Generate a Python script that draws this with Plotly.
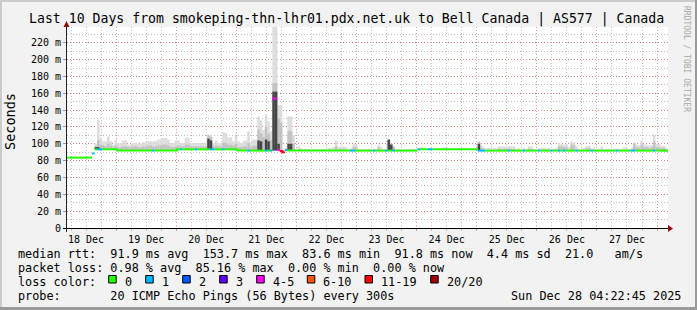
import plotly.graph_objects as go
import pandas as pd

# ---------------- data (hourly buckets, 240 h) ----------------
START = "2025-12-18 04:22:45"
END = "2025-12-28 04:22:45"

median = [
    83.6, 83.6, 83.6, 83.6, 83.6, 83.6, 83.6, 83.6, 83.6, 83.6, 88.5, 93.4,
    93.4, 93.4, 93.4, 93.4, 93.4, 93.4, 93.4, 93.4, 91.9, 91.9, 91.9, 91.9,
    91.9, 91.9, 91.9, 91.9, 91.9, 91.9, 91.9, 91.9, 91.9, 91.9, 91.9, 91.9,
    91.9, 91.9, 91.9, 91.9, 91.9, 91.9, 91.9, 91.9, 93.4, 93.4, 93.4, 93.4,
    93.4, 93.4, 93.4, 93.4, 93.4, 93.4, 93.4, 93.4, 93.4, 93.4, 93.4, 93.4,
    93.4, 93.4, 93.4, 93.4, 93.4, 93.4, 93.4, 93.4, 91.9, 91.9, 91.9, 91.9,
    91.9, 91.9, 91.9, 91.9, 91.9, 91.9, 91.9, 91.9, 91.9, 91.9, 153.7, 153.7,
    92.5, 91.5, 90.0, 92.5, 91.9, 91.9, 91.9, 91.9, 91.9, 91.9, 91.9, 91.9,
    91.9, 91.9, 91.9, 91.9, 91.9, 91.9, 91.9, 91.9, 91.9, 91.9, 91.9, 91.9,
    91.9, 91.9, 91.9, 91.9, 91.9, 91.9, 91.9, 91.9, 91.9, 91.9, 91.9, 91.9,
    91.9, 91.9, 91.9, 91.9, 91.9, 91.9, 91.9, 91.9, 91.9, 91.9, 91.9, 91.9,
    91.9, 91.9, 91.9, 91.9, 91.9, 91.9, 91.9, 91.9, 93.5, 93.5, 93.5, 93.5,
    93.5, 93.5, 93.5, 93.5, 93.5, 93.5, 93.5, 93.5, 93.5, 93.5, 93.5, 93.5,
    93.5, 93.5, 93.5, 93.5, 93.5, 93.5, 93.5, 93.5, 91.9, 91.9, 91.9, 91.9,
    91.9, 91.9, 91.9, 91.9, 91.9, 91.9, 91.9, 91.9, 91.9, 91.9, 91.9, 91.9,
    91.9, 91.9, 91.9, 91.9, 91.9, 91.9, 91.9, 91.9, 91.9, 91.9, 91.9, 91.9,
    91.9, 91.9, 91.9, 91.9, 91.9, 91.9, 91.9, 91.9, 91.9, 91.9, 91.9, 91.9,
    91.9, 91.9, 91.9, 91.9, 91.9, 91.9, 91.9, 91.9, 91.9, 91.9, 91.9, 91.9,
    91.9, 91.9, 91.9, 91.9, 91.9, 91.9, 91.9, 91.9, 91.9, 91.9, 91.9, 91.9,
    91.9, 91.9, 91.9, 91.9, 91.9, 91.9, 91.9, 91.9, 91.9, 91.9, 91.9, 91.8,
]

# lost pings out of 20 per bucket
loss = [
    0, 0, 0, 0, 0, 0, 0, 0, 0, 0, 1, 0,
    1, 1, 0, 0, 0, 0, 0, 0, 0, 0, 0, 0,
    0, 0, 0, 0, 0, 0, 0, 0, 0, 0, 1, 0,
    0, 0, 0, 0, 0, 0, 0, 0, 0, 1, 0, 0,
    0, 0, 0, 1, 0, 0, 0, 0, 0, 1, 1, 0,
    0, 0, 1, 0, 0, 0, 0, 0, 0, 0, 0, 0,
    1, 0, 0, 0, 0, 0, 0, 1, 0, 1, 5, 5,
    4, 12, 17, 1, 0, 0, 0, 0, 0, 0, 0, 0,
    0, 0, 0, 0, 0, 0, 0, 0, 0, 0, 0, 0,
    0, 0, 0, 0, 0, 1, 1, 0, 0, 0, 0, 0,
    0, 0, 1, 0, 0, 0, 0, 1, 0, 0, 1, 0,
    0, 0, 0, 0, 0, 0, 0, 0, 1, 0, 0, 0,
    1, 1, 0, 0, 0, 0, 0, 0, 0, 0, 0, 0,
    0, 0, 0, 0, 0, 0, 0, 0, 1, 1, 1, 0,
    0, 0, 0, 0, 0, 0, 0, 0, 1, 0, 0, 0,
    0, 0, 1, 0, 0, 0, 0, 0, 1, 0, 0, 0,
    0, 1, 0, 0, 1, 0, 1, 0, 0, 0, 0, 1,
    0, 0, 0, 0, 0, 1, 0, 0, 0, 0, 0, 0,
    0, 0, 0, 1, 0, 0, 0, 0, 0, 1, 1, 0,
    0, 0, 0, 0, 0, 0, 1, 0, 0, 0, 0, 0,
]

# lowest ping of each bucket (bottom of the smoke)
smoke_min = [
    83.6, 83.6, 83.6, 83.6, 83.6, 83.6, 83.6, 83.6, 83.6, 83.6, 88.5, 93.4,
    93.4, 93.4, 93.4, 93.4, 93.4, 93.4, 93.4, 93.4, 91.9, 91.9, 91.9, 91.9,
    91.9, 91.9, 91.9, 91.9, 91.9, 91.9, 91.9, 91.9, 91.9, 91.9, 91.9, 91.9,
    91.9, 91.9, 91.9, 91.9, 91.9, 91.9, 91.9, 91.9, 93.4, 93.4, 93.4, 93.4,
    93.4, 93.4, 93.4, 93.4, 93.4, 93.4, 93.4, 93.4, 93.4, 93.4, 93.4, 93.4,
    93.4, 93.4, 93.4, 93.4, 93.4, 93.4, 93.4, 93.4, 91.9, 91.9, 91.9, 91.9,
    91.9, 91.9, 91.9, 91.9, 91.9, 91.9, 91.9, 91.9, 91.9, 91.9, 92.0, 92.0,
    92.5, 91.5, 90.0, 92.5, 91.9, 91.9, 91.9, 91.9, 91.9, 91.9, 91.9, 91.9,
    91.9, 91.9, 91.9, 91.9, 91.9, 91.9, 91.9, 91.9, 91.9, 91.9, 91.9, 91.9,
    91.9, 91.9, 91.9, 91.9, 91.9, 91.9, 91.9, 91.9, 91.9, 91.9, 91.9, 91.9,
    91.9, 91.9, 91.9, 91.9, 91.9, 91.9, 91.9, 91.9, 91.9, 91.9, 91.9, 91.9,
    91.9, 91.9, 91.9, 91.9, 91.9, 91.9, 91.9, 91.9, 93.5, 93.5, 93.5, 93.5,
    93.5, 93.5, 93.5, 93.5, 93.5, 93.5, 93.5, 93.5, 93.5, 93.5, 93.5, 93.5,
    93.5, 93.5, 93.5, 93.5, 93.5, 93.5, 93.5, 93.5, 91.9, 91.9, 91.9, 91.9,
    91.9, 91.9, 91.9, 91.9, 91.9, 91.9, 91.9, 91.9, 91.9, 91.9, 91.9, 91.9,
    91.9, 91.9, 91.9, 91.9, 91.9, 91.9, 91.9, 91.9, 91.9, 91.9, 91.9, 91.9,
    91.9, 91.9, 91.9, 91.9, 91.9, 91.9, 91.9, 91.9, 91.9, 91.9, 91.9, 91.9,
    91.9, 91.9, 91.9, 91.9, 91.9, 91.9, 91.9, 91.9, 91.9, 91.9, 91.9, 91.9,
    91.9, 91.9, 91.9, 91.9, 91.9, 91.9, 91.9, 91.9, 91.9, 91.9, 91.9, 91.9,
    91.9, 91.9, 91.9, 91.9, 91.9, 91.9, 91.9, 91.9, 91.9, 91.9, 91.9, 91.8,
]

# top of the light smoke (highest pings)
smoke_hi = [
    None, None, None, None, None, None, None, None, None, None, None, 100,
    128.6, 106.8, 103, 103, 108.8, 103, 99, 105, 101, 101, 104, 104,
    99, 99, 100.9, 100.9, 100, 100, 101.7, 101.7, 103, 103, 103, 103,
    105, 105, 106.8, 106.8, 105, 101, 101, 104, 104, 101, 101, 106.8,
    106.8, 100, 100, 101, 101, 101, 101, 101, 110.8, 110.8, 101, 104,
    101, 101, 113.6, 113, 107.6, 107.6, 103, 109.6, 103, 101, 103, 104,
    114.7, 102, 105, 105, 132.6, 128, 116.7, 133.8, 126.6, 115, 250, 250,
    146, 146, 93, 95, 132.6, 132.6, 110, 93, 97, 95, 93.5, 93.5,
    93, 93, 93, 94, 93, 93, 93, 93, 95, 95, 96, 103.7,
    96, 97, 97, 96, 94, 95, 99.7, 99, 94, 93, 93, 93,
    93, 93, 94, 94, 99, 96, 93, 93, 104.9, 100, 96.6, 94,
    93, 93, 93, 93, 94.2, 94, 93, 93, 94.5, 96, 94.5, 94.5,
    94.5, 94.5, 94.5, 94.5, 94.5, 94.5, 95.7, 95.7, 94.5, 94.5, 94.5, 94.5,
    94.5, 94.5, 94.5, 94.5, 94.5, 94.5, 94.5, 94.5, 103.5, 98, 96, 95,
    95, 95, 95, 95, 97, 97, 97, 97, 97, 97, 97, 94,
    95, 94, 95, 94, 97, 97, 94, 93, 95, 95, 95, 95,
    95, 94, 94, 95, 100.9, 100, 99, 99, 96, 102.9, 102, 97,
    94, 94, 95, 97.7, 97.7, 94, 95.7, 94, 94, 97, 94, 94,
    94, 94, 94.2, 94, 94, 94, 95.7, 95.7, 94, 95, 101.7, 99,
    98, 104, 99.7, 99, 98, 99, 110.8, 99.7, 99.7, 97.7, 97.7, 95,
]

# top of the medium-grey smoke
smoke_mid = [
    None, None, None, None, None, None, None, None, None, None, None, 97,
    104, 99, 98, 97, 100, 98, 96, 98, 96, 96, 97, 97,
    96, 96, 97, 97, 96, 96, 97, 97, 98, 98, 97, 97,
    98, 98, 99, 99, 98, 96, 96, 97, 98, 97, 97, 99,
    99, 97, 97, 97, 97, 97, 97, 97, 110, 108, 97, 98,
    97, 97, 102, 101, 99, 99, 98, 100, 96, 96, 97, 97,
    101, 96, 98, 98, 117, 112, 108, 120, 112, 104, 172, 172,
    130, 125, None, None, 115, 115, 100, None, 94, None, None, None,
    None, None, None, None, None, None, None, None, None, None, None, 97,
    None, 94, 94, None, None, None, 96, 96, None, None, None, None,
    None, None, None, None, 96, None, None, None, 104.9, 100, 96.6, None,
    None, None, None, None, None, None, None, None, None, None, None, None,
    None, None, None, None, None, None, None, None, None, None, None, None,
    None, None, None, None, None, None, None, None, 102, 95, None, None,
    None, None, None, None, 94, 94, 94, 94, 94, 94, 94, None,
    None, None, None, None, 94, 94, None, None, None, None, None, None,
    None, None, None, None, 97, 97, 96, 96, None, 99, 98, None,
    None, None, None, 95, 95, None, None, None, None, None, None, None,
    None, None, None, None, None, None, None, None, None, None, 100, 96,
    95, 99, 96, 96, 95, 96, 103, 96, 96, 95, 95, None,
]

# top of the dark smoke core
smoke_dark = [
    None, None, None, None, None, None, None, None, None, None, None, 96,
    96, None, None, None, None, None, None, None, None, None, None, None,
    None, None, None, None, None, None, None, None, None, None, None, None,
    None, None, None, None, None, None, None, None, None, None, None, None,
    None, None, None, None, None, None, None, None, 106, 104, None, None,
    None, None, None, None, None, None, None, None, None, None, None, None,
    None, None, None, None, 104, 103, None, 105, 103, None, 162, 162,
    100, None, None, None, 100, 100, None, None, None, None, None, None,
    None, None, None, None, None, None, None, None, None, None, None, None,
    None, None, None, None, None, None, None, None, None, None, None, None,
    None, None, None, None, None, None, None, None, 104.9, 99, None, None,
    None, None, None, None, None, None, None, None, None, None, None, None,
    None, None, None, None, None, None, None, None, None, None, None, None,
    None, None, None, None, None, None, None, None, 100, None, None, None,
    None, None, None, None, None, None, None, None, None, None, None, None,
    None, None, None, None, None, None, None, None, None, None, None, None,
    None, None, None, None, None, None, None, None, None, None, None, None,
    None, None, None, None, None, None, None, None, None, None, None, None,
    None, None, None, None, None, None, None, None, None, None, None, None,
    None, None, None, None, None, None, None, None, None, None, None, None,
]

loss_labels = ["0", "1", "2", "3", "4-5", "6-10", "11-19", "20/20"]
loss_upper = [0, 1, 2, 3, 5, 10, 19, 20]
loss_colors = ["#26ff00", "#00b8ff", "#0059ff", "#5e00ff", "#ff00ff",
               "#ff5500", "#ff0000", "#a10000"]

y_tickvals = [0, 20, 40, 60, 80, 100, 120, 140, 160, 180, 200, 220]
y_ticktext = ["0", "20 m", "40 m", "60 m", "80 m", "100 m", "120 m", "140 m",
              "160 m", "180 m", "200 m", "220 m"]

title_text = "Last 10 Days from smokeping-thn-lhr01.pdx.net.uk to Bell Canada | AS577 | Canada"
legend_rows = [
    "median rtt:  91.9 ms avg  153.7 ms max  83.6 ms min  91.8 ms now  4.4 ms sd  21.0   am/s",
    "packet loss: 0.98 % avg  85.16 % max  0.00 % min  0.00 % now",
    "loss color:",
    "probe:       20 ICMP Echo Pings (56 Bytes) every 300s",
]
stamp_text = "Sun Dec 28 04:22:45 2025"

# ---------------- helpers ----------------
n = len(median)
t0 = pd.Timestamp(START)
edges = [t0 + pd.Timedelta(hours=i) for i in range(n + 1)]
centers = [t0 + pd.Timedelta(minutes=60 * i + 30) for i in range(n)]
HOUR_MS = 3600 * 1000

W, H = 697, 310
L, R, T, B = 67, 668, 27, 228


def px(x):
    return (x - L) / (R - L)


def py(y):
    return (B - y) / (B - T)


def loss_bin(v):
    for k, up in enumerate(loss_upper):
        if v <= up:
            return k
    return len(loss_upper) - 1


MONO = "DejaVu Sans Mono"
RED_GRID = "rgba(225,110,110,0.75)"
GRAY_GRID = "rgba(170,170,170,0.75)"

fig = go.Figure()

# smoke layers
for arr, col in [(smoke_hi, "#dcdcdc"), (smoke_mid, "#c2c2c2"), (smoke_dark, "#454545")]:
    hts = [None if v is None else v - b for v, b in zip(arr, smoke_min)]
    fig.add_trace(go.Bar(x=centers, y=hts, base=smoke_min, width=HOUR_MS,
                         marker=dict(color=col, line=dict(width=0)),
                         hoverinfo="skip"))

# median line coloured by loss (steps joined only for small changes)
bins = [loss_bin(v) for v in loss]
for k, col in enumerate(loss_colors):
    xs, ys = [], []
    i = 0
    while i < n:
        if bins[i] == k:
            j = i
            while True:
                xs.append(edges[j])
                ys.append(median[j])
                j += 1
                if j >= n or bins[j] != k or abs(median[j] - median[j - 1]) > 3:
                    break
            xs.append(edges[j])
            ys.append(median[j - 1])
            xs.append(None)
            ys.append(None)
            i = j
        else:
            i += 1
    if xs:
        fig.add_trace(go.Scatter(x=xs, y=ys, mode="lines",
                                 line=dict(color=col, width=2, shape="hv"),
                                 connectgaps=False, hoverinfo="skip"))

shapes = []
# frame / bevel
shapes.append(dict(type="rect", xref="paper", yref="paper", x0=px(0), x1=px(2), y0=py(H), y1=py(0),
                   fillcolor="#cbcbcb", line=dict(width=0), layer="below"))
shapes.append(dict(type="rect", xref="paper", yref="paper", x0=px(0), x1=px(W), y0=py(2), y1=py(0),
                   fillcolor="#cbcbcb", line=dict(width=0), layer="below"))
shapes.append(dict(type="rect", xref="paper", yref="paper", x0=px(0), x1=px(W), y0=py(H), y1=py(H - 3),
                   fillcolor="#9a9a9a", line=dict(width=0), layer="below"))
shapes.append(dict(type="rect", xref="paper", yref="paper", x0=px(W - 2), x1=px(W), y0=py(H), y1=py(0),
                   fillcolor="#9a9a9a", line=dict(width=0), layer="below"))
# axes with arrows
shapes.append(dict(type="line", xref="paper", yref="paper", x0=px(63), x1=px(670), y0=py(B + 0.5), y1=py(B + 0.5),
                   line=dict(color="#000000", width=1)))
shapes.append(dict(type="line", xref="paper", yref="paper", x0=px(L - 0.5), x1=px(L - 0.5), y0=py(B + 4), y1=py(24),
                   line=dict(color="#202020", width=1)))
shapes.append(dict(type="path", xref="paper", yref="paper",
                   path=f"M {px(668)} {py(B - 3)} L {px(673)} {py(B + 0.5)} L {px(668)} {py(B + 4)} Z",
                   fillcolor="#8b1010", line=dict(width=0)))
shapes.append(dict(type="path", xref="paper", yref="paper",
                   path=f"M {px(L - 3.5)} {py(27)} L {px(L - 0.5)} {py(21)} L {px(L + 2.5)} {py(27)} Z",
                   fillcolor="#8b1010", line=dict(width=0)))

annotations = []
nb = "\u00a0"
annotations.append(dict(text=title_text.replace(" ", nb), xref="paper", yref="paper",
                        x=px(346.5), y=py(19), xanchor="center", yanchor="middle", showarrow=False,
                        font=dict(family=MONO, size=13.2, color="#000")))
annotations.append(dict(text="Seconds", xref="paper", yref="paper", x=px(10), y=py(122),
                        xanchor="center", yanchor="middle", textangle=-90, showarrow=False,
                        font=dict(family=MONO, size=13.5, color="#000")))
annotations.append(dict(text="RRDTOOL / TOBI OETIKER".replace(" ", nb), xref="paper", yref="paper",
                        x=px(687), y=py(59), xanchor="center", yanchor="middle", textangle=90,
                        showarrow=False, font=dict(family=MONO, size=8, color="#a8a8a8")))
row_y = [254, 268, 282, 296]
for txt, yy in zip(legend_rows, row_y):
    annotations.append(dict(text=txt.replace(" ", nb), xref="paper", yref="paper", x=px(16), y=py(yy),
                            xanchor="left", yanchor="middle", showarrow=False,
                            font=dict(family=MONO, size=11.8, color="#000")))
annotations.append(dict(text=stamp_text.replace(" ", nb), xref="paper", yref="paper", x=px(683), y=py(296),
                        xanchor="right", yanchor="middle", showarrow=False,
                        font=dict(family=MONO, size=11.8, color="#000")))
# loss colour swatches
box_x = [108.7, 145.7, 182.7, 219.7, 256.7, 307.3, 365.0, 430.7]
for bx, lab, col in zip(box_x, loss_labels, loss_colors):
    shapes.append(dict(type="rect", xref="paper", yref="paper", x0=px(bx), x1=px(bx + 7.5),
                       y0=py(283), y1=py(275.5), fillcolor=col, line=dict(color="#000", width=1)))
    annotations.append(dict(text=lab, xref="paper", yref="paper", x=px(bx + 14), y=py(282),
                            xanchor="left", yanchor="middle", showarrow=False,
                            font=dict(family=MONO, size=11.8, color="#000")))

fig.update_layout(
    width=W, height=H,
    margin=dict(l=L, r=W - R, t=T, b=H - B, pad=0),
    paper_bgcolor="#f2f2f2", plot_bgcolor="#ffffff",
    showlegend=False, barmode="overlay",
    font=dict(family=MONO, size=10, color="#000"),
    shapes=shapes, annotations=annotations,
    xaxis=dict(type="date", range=[START, END], dtick=86400000, tick0="2025-12-19 00:00:00",
               tickformat="%d %b", ticklabelmode="period",
               showgrid=True, gridcolor=RED_GRID, griddash="1px,2px", gridwidth=1,
               ticks="outside", ticklen=2, tickcolor=RED_GRID, showline=False, zeroline=False,
               tickfont=dict(family=MONO, size=10, color="#000"),
               minor=dict(dtick=6 * HOUR_MS, tick0="2025-12-19 00:00:00", showgrid=True,
                          gridcolor=GRAY_GRID, griddash="1px,2px", gridwidth=1,
                          ticks="outside", ticklen=2, tickcolor=GRAY_GRID),
               fixedrange=True),
    yaxis=dict(range=[0, 238.7], tickmode="array", tickvals=y_tickvals, ticktext=y_ticktext,
               showgrid=True, gridcolor=RED_GRID, griddash="1px,2px", gridwidth=1,
               ticks="outside", ticklen=3, tickcolor="#999999", zeroline=False, showline=False,
               tickfont=dict(family=MONO, size=10, color="#000"),
               minor=dict(dtick=10, showgrid=True, gridcolor=GRAY_GRID, griddash="1px,2px", gridwidth=1),
               fixedrange=True),
)

fig.write_html("out.html")
